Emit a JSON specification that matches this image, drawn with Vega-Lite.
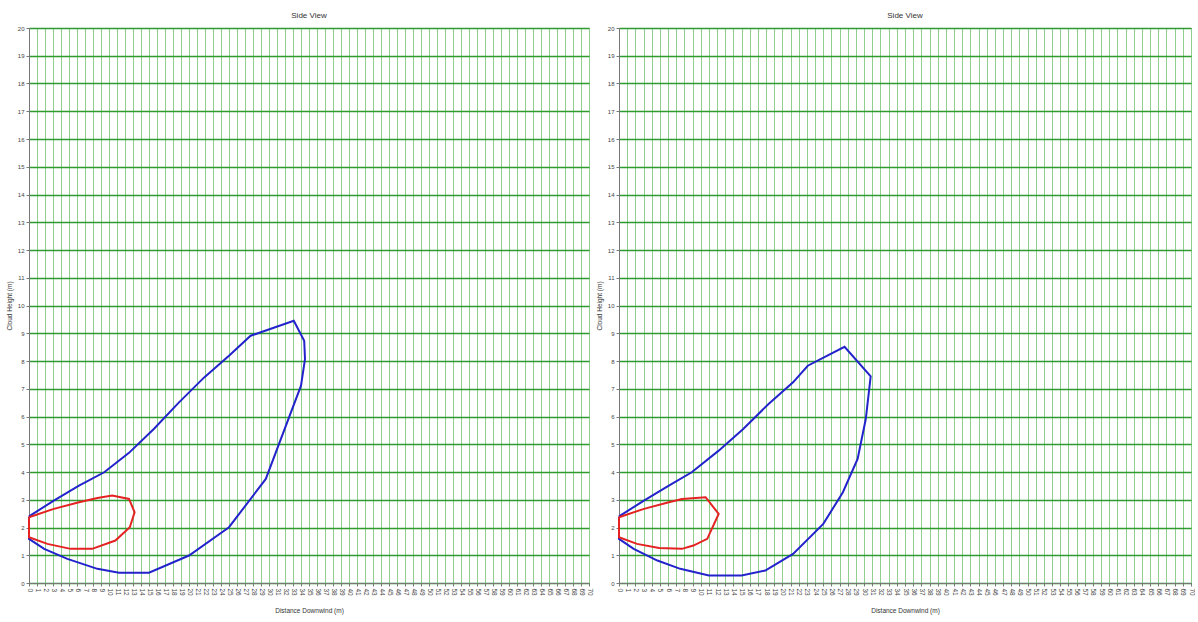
{
  "$schema": "https://vega.github.io/schema/vega-lite/v6.json",
  "background": "white",
  "padding": {"left": 5, "top": 11, "right": 0, "bottom": 0},
  "spacing": 2,
  "data": {"values": [
    {"panel": "L", "series": "outer", "i": 0, "x": 0, "y": 2.4},
    {"panel": "L", "series": "outer", "i": 1, "x": 3.1, "y": 2.97},
    {"panel": "L", "series": "outer", "i": 2, "x": 6.25, "y": 3.51},
    {"panel": "L", "series": "outer", "i": 3, "x": 9.4, "y": 3.99},
    {"panel": "L", "series": "outer", "i": 4, "x": 12.5, "y": 4.69},
    {"panel": "L", "series": "outer", "i": 5, "x": 15.6, "y": 5.55},
    {"panel": "L", "series": "outer", "i": 6, "x": 18.75, "y": 6.51},
    {"panel": "L", "series": "outer", "i": 7, "x": 21.9, "y": 7.41},
    {"panel": "L", "series": "outer", "i": 8, "x": 25, "y": 8.19},
    {"panel": "L", "series": "outer", "i": 9, "x": 27.7, "y": 8.91},
    {"panel": "L", "series": "outer", "i": 10, "x": 33.1, "y": 9.45},
    {"panel": "L", "series": "outer", "i": 11, "x": 34.4, "y": 8.73},
    {"panel": "L", "series": "outer", "i": 12, "x": 34.5, "y": 8.07},
    {"panel": "L", "series": "outer", "i": 13, "x": 34.0, "y": 7.11},
    {"panel": "L", "series": "outer", "i": 14, "x": 29.6, "y": 3.75},
    {"panel": "L", "series": "outer", "i": 15, "x": 25, "y": 2.01},
    {"panel": "L", "series": "outer", "i": 16, "x": 20, "y": 0.99},
    {"panel": "L", "series": "outer", "i": 17, "x": 15, "y": 0.37},
    {"panel": "L", "series": "outer", "i": 18, "x": 11.25, "y": 0.37},
    {"panel": "L", "series": "outer", "i": 19, "x": 8.55, "y": 0.51},
    {"panel": "L", "series": "outer", "i": 20, "x": 4.8, "y": 0.87},
    {"panel": "L", "series": "outer", "i": 21, "x": 1.9, "y": 1.23},
    {"panel": "L", "series": "outer", "i": 22, "x": 0, "y": 1.59},
    {"panel": "L", "series": "outer", "i": 23, "x": 0, "y": 2.4},
    {"panel": "L", "series": "inner", "i": 0, "x": 0, "y": 2.37},
    {"panel": "L", "series": "inner", "i": 1, "x": 3.1, "y": 2.67},
    {"panel": "L", "series": "inner", "i": 2, "x": 6.25, "y": 2.91},
    {"panel": "L", "series": "inner", "i": 3, "x": 8.55, "y": 3.06},
    {"panel": "L", "series": "inner", "i": 4, "x": 10.4, "y": 3.15},
    {"panel": "L", "series": "inner", "i": 5, "x": 12.5, "y": 3.03},
    {"panel": "L", "series": "inner", "i": 6, "x": 13.2, "y": 2.55},
    {"panel": "L", "series": "inner", "i": 7, "x": 12.6, "y": 2.01},
    {"panel": "L", "series": "inner", "i": 8, "x": 10.8, "y": 1.53},
    {"panel": "L", "series": "inner", "i": 9, "x": 7.9, "y": 1.23},
    {"panel": "L", "series": "inner", "i": 10, "x": 5.2, "y": 1.23},
    {"panel": "L", "series": "inner", "i": 11, "x": 2.3, "y": 1.41},
    {"panel": "L", "series": "inner", "i": 12, "x": 0, "y": 1.65},
    {"panel": "L", "series": "inner", "i": 13, "x": 0, "y": 2.37},
    {"panel": "R", "series": "outer", "i": 0, "x": 0, "y": 2.4},
    {"panel": "R", "series": "outer", "i": 1, "x": 3.05, "y": 2.97},
    {"panel": "R", "series": "outer", "i": 2, "x": 6.1, "y": 3.51},
    {"panel": "R", "series": "outer", "i": 3, "x": 8.9, "y": 3.99},
    {"panel": "R", "series": "outer", "i": 4, "x": 12.2, "y": 4.77},
    {"panel": "R", "series": "outer", "i": 5, "x": 15.2, "y": 5.55},
    {"panel": "R", "series": "outer", "i": 6, "x": 18.3, "y": 6.45},
    {"panel": "R", "series": "outer", "i": 7, "x": 21.3, "y": 7.23},
    {"panel": "R", "series": "outer", "i": 8, "x": 23.1, "y": 7.83},
    {"panel": "R", "series": "outer", "i": 9, "x": 27.6, "y": 8.51},
    {"panel": "R", "series": "outer", "i": 10, "x": 30.8, "y": 7.45},
    {"panel": "R", "series": "outer", "i": 11, "x": 30.2, "y": 5.91},
    {"panel": "R", "series": "outer", "i": 12, "x": 29.2, "y": 4.47},
    {"panel": "R", "series": "outer", "i": 13, "x": 27.4, "y": 3.27},
    {"panel": "R", "series": "outer", "i": 14, "x": 25.0, "y": 2.13},
    {"panel": "R", "series": "outer", "i": 15, "x": 21.3, "y": 1.05},
    {"panel": "R", "series": "outer", "i": 16, "x": 17.9, "y": 0.45},
    {"panel": "R", "series": "outer", "i": 17, "x": 15.0, "y": 0.27},
    {"panel": "R", "series": "outer", "i": 18, "x": 11.0, "y": 0.27},
    {"panel": "R", "series": "outer", "i": 19, "x": 7.5, "y": 0.51},
    {"panel": "R", "series": "outer", "i": 20, "x": 4.7, "y": 0.81},
    {"panel": "R", "series": "outer", "i": 21, "x": 1.8, "y": 1.23},
    {"panel": "R", "series": "outer", "i": 22, "x": 0, "y": 1.59},
    {"panel": "R", "series": "outer", "i": 23, "x": 0, "y": 2.4},
    {"panel": "R", "series": "inner", "i": 0, "x": 0, "y": 2.37},
    {"panel": "R", "series": "inner", "i": 1, "x": 3.05, "y": 2.67},
    {"panel": "R", "series": "inner", "i": 2, "x": 6.1, "y": 2.91},
    {"panel": "R", "series": "inner", "i": 3, "x": 7.7, "y": 3.03},
    {"panel": "R", "series": "inner", "i": 4, "x": 10.6, "y": 3.09},
    {"panel": "R", "series": "inner", "i": 5, "x": 12.2, "y": 2.49},
    {"panel": "R", "series": "inner", "i": 6, "x": 10.8, "y": 1.59},
    {"panel": "R", "series": "inner", "i": 7, "x": 9.1, "y": 1.35},
    {"panel": "R", "series": "inner", "i": 8, "x": 7.7, "y": 1.23},
    {"panel": "R", "series": "inner", "i": 9, "x": 4.9, "y": 1.26},
    {"panel": "R", "series": "inner", "i": 10, "x": 2.2, "y": 1.41},
    {"panel": "R", "series": "inner", "i": 11, "x": 0, "y": 1.65},
    {"panel": "R", "series": "inner", "i": 12, "x": 0, "y": 2.37}
  ]},
  "hconcat": [
    {
      "width": 560,
      "height": 555,
      "title": {"text": "Side View"},
      "transform": [{"filter": "datum.panel === 'L'"}],
      "mark": {"type": "line", "strokeWidth": 2},
      "encoding": {
        "x": {"field": "x", "type": "quantitative", "title": "Distance Downwind (m)", "scale": {"domain": [0, 70], "nice": false, "zero": false}},
        "y": {"field": "y", "type": "quantitative", "title": "Cloud Height (m)", "scale": {"domain": [0, 20], "nice": false, "zero": false}},
        "color": {"field": "series", "type": "nominal", "scale": {"domain": ["outer", "inner"], "range": ["#2323cc", "#e52222"]}, "legend": null},
        "detail": {"field": "series"},
        "order": {"field": "i", "type": "quantitative"}
      }
    },
    {
      "width": 572,
      "height": 555,
      "title": {"text": "Side View"},
      "transform": [{"filter": "datum.panel === 'R'"}],
      "mark": {"type": "line", "strokeWidth": 2},
      "encoding": {
        "x": {"field": "x", "type": "quantitative", "title": "Distance Downwind (m)", "scale": {"domain": [0, 70], "nice": false, "zero": false}},
        "y": {"field": "y", "type": "quantitative", "title": "Cloud Height (m)", "scale": {"domain": [0, 20], "nice": false, "zero": false}},
        "color": {"field": "series", "type": "nominal", "scale": {"domain": ["outer", "inner"], "range": ["#2323cc", "#e52222"]}, "legend": null},
        "detail": {"field": "series"},
        "order": {"field": "i", "type": "quantitative"}
      }
    }
  ],
  "resolve": {"scale": {"x": "independent", "y": "independent"}},
  "config": {
    "font": "Liberation Sans",
    "view": {"stroke": "#8a8a8a", "strokeWidth": 1},
    "title": {"fontSize": 8, "fontWeight": "normal", "color": "#333333", "offset": 5, "anchor": "middle"},
    "axis": {
      "labelFontSize": 6,
      "labelColor": "#444444",
      "titleFontSize": 6.5,
      "titleFontWeight": "normal",
      "titleColor": "#333333",
      "domainColor": "#777777",
      "tickColor": "#777777",
      "tickSize": 3,
      "labelPadding": 2,
      "labelOverlap": false,
      "labelFlush": false
    },
    "axisX": {
      "tickCount": 70,
      "labelAngle": 90,
      "labelAlign": "left",
      "labelBaseline": "middle",
      "labelFontSize": 6.5,
      "gridColor": "#8fd08f",
      "gridWidth": 1,
      "gridOpacity": 1,
      "titlePadding": 12
    },
    "axisY": {
      "tickCount": 20,
      "gridColor": "#2f9a2f",
      "gridWidth": 1.3,
      "gridOpacity": 1,
      "titlePadding": 5
    }
  }
}
